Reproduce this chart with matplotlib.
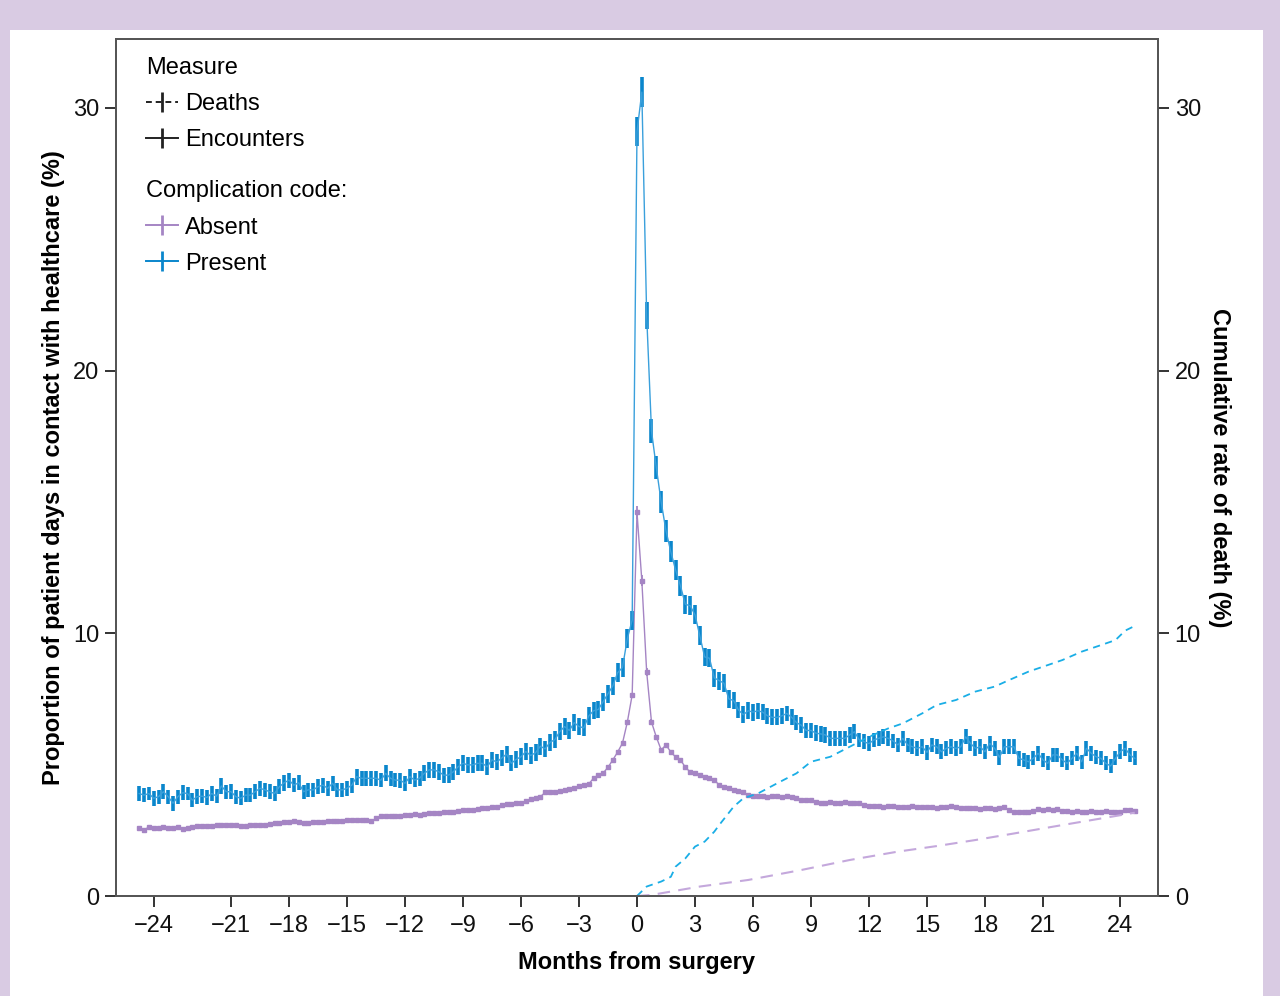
import numpy as np
import matplotlib
matplotlib.use("Agg")
import matplotlib.pyplot as plt
from matplotlib.lines import Line2D
from matplotlib.patches import Rectangle

plt.rcParams["font.family"] = ["Liberation Sans", "DejaVu Sans"]

# weeks from surgery (axis unit = 4 weeks)
weeks = np.arange(-103, 104)

# encounters, complication code present (%)
present_enc = [
    3.90, 3.84, 3.90, 3.72, 3.78, 3.97, 3.78, 3.53, 3.78, 3.93,
    3.90, 3.65, 3.78, 3.80, 3.75, 3.90, 3.80, 4.19, 3.97, 3.97,
    3.78, 3.72, 3.84, 3.84, 3.97, 4.10, 4.04, 3.97, 3.90, 4.16,
    4.31, 4.41, 4.22, 4.31, 3.97, 4.04, 4.04, 4.16, 4.22, 4.10,
    4.29, 4.04, 4.04, 4.10, 4.22, 4.54, 4.48, 4.48, 4.48, 4.48,
    4.41, 4.67, 4.48, 4.41, 4.41, 4.29, 4.54, 4.41, 4.48, 4.67,
    4.80, 4.80, 4.73, 4.60, 4.60, 4.73, 4.92, 5.05, 4.99, 4.99,
    5.05, 5.05, 4.92, 5.18, 5.10, 5.25, 5.40, 5.05, 5.20, 5.30,
    5.50, 5.35, 5.45, 5.70, 5.60, 5.85, 5.95, 6.25, 6.45, 6.30,
    6.60, 6.45, 6.40, 6.85, 7.05, 7.10, 7.40, 7.70, 8.00, 8.50,
    8.70, 9.80, 10.50,
    29.1, 30.6, 22.1, 17.7, 16.3, 15.0, 13.9, 13.1, 12.4, 11.8,
    11.1, 11.05, 10.7, 9.9, 9.1, 9.05, 8.3, 8.2, 8.1, 7.5,
    7.44, 7.08, 6.9, 7.05, 7.0, 7.05, 7.0, 6.86, 6.8, 6.8,
    6.86, 6.95, 6.8, 6.6, 6.5, 6.3, 6.3, 6.2, 6.17, 6.13,
    6.0, 6.0, 6.0, 6.0, 6.13, 6.25, 5.94, 5.87, 5.8, 5.94,
    6.0, 6.06, 6.0, 5.9, 5.75, 6.0, 5.75, 5.68, 5.62, 5.68,
    5.47, 5.75, 5.68, 5.49, 5.62, 5.68, 5.62, 5.68, 6.06, 5.81,
    5.62, 5.68, 5.49, 5.81, 5.62, 5.28, 5.68, 5.68, 5.68, 5.24,
    5.18, 5.11, 5.24, 5.43, 5.18, 5.05, 5.37, 5.37, 5.18, 5.05,
    5.24, 5.43, 5.11, 5.62, 5.43, 5.30, 5.24, 5.05, 4.95, 5.24,
    5.49, 5.62, 5.37, 5.24,
]
present_err = [
    0.27, 0.28, 0.26, 0.28, 0.27, 0.29, 0.26, 0.28, 0.27, 0.28,
    0.26, 0.27, 0.28, 0.26, 0.27, 0.28, 0.26, 0.30, 0.27, 0.28,
    0.27, 0.26, 0.28, 0.27, 0.28, 0.29, 0.27, 0.28, 0.27, 0.29,
    0.30, 0.29, 0.28, 0.29, 0.27, 0.28, 0.27, 0.28, 0.29, 0.28,
    0.29, 0.28, 0.27, 0.28, 0.29, 0.30, 0.29, 0.29, 0.28, 0.29,
    0.28, 0.30, 0.29, 0.28, 0.29, 0.28, 0.29, 0.28, 0.29, 0.30,
    0.30, 0.31, 0.30, 0.29, 0.30, 0.30, 0.31, 0.31, 0.30, 0.31,
    0.31, 0.30, 0.31, 0.31, 0.30, 0.31, 0.32, 0.31, 0.31, 0.32,
    0.32, 0.31, 0.32, 0.32, 0.31, 0.32, 0.33, 0.32, 0.33, 0.32,
    0.33, 0.33, 0.32, 0.33, 0.33, 0.33, 0.34, 0.34, 0.34, 0.35,
    0.35, 0.35, 0.36,
    0.56, 0.56, 0.52, 0.46, 0.44, 0.42, 0.41, 0.40, 0.39, 0.38,
    0.37, 0.37, 0.36, 0.36, 0.35, 0.35, 0.35, 0.34, 0.34, 0.33,
    0.33, 0.32, 0.32, 0.32, 0.32, 0.31, 0.31, 0.31, 0.31, 0.31,
    0.31, 0.30, 0.30, 0.30, 0.30, 0.30, 0.30, 0.29, 0.29, 0.29,
    0.29, 0.29, 0.29, 0.29, 0.29, 0.29, 0.28, 0.28, 0.28, 0.28,
    0.28, 0.28, 0.28, 0.28, 0.28, 0.28, 0.28, 0.28, 0.28, 0.28,
    0.28, 0.28, 0.28, 0.28, 0.28, 0.28, 0.28, 0.28, 0.28, 0.28,
    0.28, 0.28, 0.28, 0.28, 0.28, 0.28, 0.28, 0.28, 0.28, 0.28,
    0.27, 0.27, 0.27, 0.28, 0.27, 0.27, 0.28, 0.28, 0.27, 0.27,
    0.27, 0.28, 0.27, 0.28, 0.28, 0.27, 0.27, 0.27, 0.27, 0.27,
    0.28, 0.28, 0.27, 0.27,
]

# encounters, complication code absent (%)
absent_enc = [
    2.59, 2.52, 2.62, 2.60, 2.60, 2.61, 2.60, 2.59, 2.61, 2.56,
    2.60, 2.62, 2.67, 2.66, 2.68, 2.67, 2.70, 2.69, 2.72, 2.71,
    2.70, 2.68, 2.67, 2.69, 2.70, 2.70, 2.71, 2.74, 2.76, 2.78,
    2.80, 2.82, 2.84, 2.80, 2.78, 2.79, 2.80, 2.80, 2.80, 2.84,
    2.86, 2.85, 2.87, 2.90, 2.89, 2.90, 2.91, 2.88, 2.84, 2.95,
    3.05, 3.04, 3.03, 3.03, 3.05, 3.07, 3.08, 3.11, 3.10, 3.14,
    3.17, 3.16, 3.15, 3.18, 3.20, 3.21, 3.23, 3.27, 3.26, 3.29,
    3.31, 3.34, 3.35, 3.38, 3.40, 3.45, 3.49, 3.51, 3.53, 3.55,
    3.60, 3.68, 3.72, 3.78, 3.94, 3.96, 3.97, 3.98, 4.02, 4.06,
    4.12, 4.18, 4.22, 4.26, 4.48, 4.60, 4.68, 4.90, 5.18, 5.48,
    5.82, 6.62, 7.65,
    14.6, 12.0, 8.53, 6.62, 6.05, 5.56, 5.75, 5.48, 5.29, 5.18,
    4.90, 4.72, 4.68, 4.60, 4.53, 4.49, 4.42, 4.22, 4.15, 4.10,
    4.05, 4.00, 3.95, 3.85, 3.82, 3.80, 3.80, 3.78, 3.80, 3.79,
    3.78, 3.80, 3.76, 3.72, 3.66, 3.66, 3.64, 3.58, 3.53, 3.55,
    3.56, 3.55, 3.54, 3.56, 3.55, 3.53, 3.55, 3.46, 3.44, 3.42,
    3.42, 3.40, 3.41, 3.42, 3.40, 3.40, 3.39, 3.41, 3.40, 3.38,
    3.37, 3.37, 3.36, 3.38, 3.37, 3.42, 3.38, 3.35, 3.34, 3.35,
    3.34, 3.33, 3.34, 3.35, 3.33, 3.34, 3.37, 3.28, 3.20, 3.19,
    3.20, 3.18, 3.22, 3.30, 3.29, 3.30, 3.28, 3.30, 3.24, 3.22,
    3.21, 3.22, 3.20, 3.21, 3.22, 3.20, 3.21, 3.22, 3.20, 3.19,
    3.21, 3.28, 3.27, 3.25,
]
absent_err = [0.05] * 100 + [0.06, 0.07, 0.09] + [
    0.25, 0.20, 0.15, 0.11, 0.09, 0.08, 0.08, 0.07, 0.07, 0.07,
] + [0.06] * 94

# cumulative deaths (%), weeks after surgery
death_wk_present = [0, 2, 5, 7, 8, 10, 12, 14, 16, 17, 20, 22, 25, 29, 33, 36, 40, 44,
                    48, 52, 55, 59, 62, 66, 70, 74, 77, 81, 85, 88, 92, 96, 99, 101, 103]
death_present = [0.0, 0.36, 0.55, 0.73, 1.12, 1.43, 1.88, 2.07, 2.45, 2.70, 3.40, 3.72,
                 3.90, 4.29, 4.67, 5.11, 5.30, 5.68, 6.06, 6.38, 6.57, 6.95, 7.27, 7.46,
                 7.78, 7.97, 8.22, 8.54, 8.79, 8.98, 9.30, 9.55, 9.74, 10.10, 10.28]
death_wk_absent = [0, 3, 13, 23, 34, 44, 54, 62, 70, 78, 88, 96, 103]
death_absent = [0.0, 0.04, 0.36, 0.61, 0.99, 1.37, 1.69, 1.90, 2.13, 2.38, 2.70, 2.95, 3.17]

xtick_labels = ["\u221224", "\u221221", "\u221218", "\u221215", "\u221212", "\u22129",
                "\u22126", "\u22123", "0", "3", "6", "9", "12", "15", "18", "21", "24"]

blue = "#0a86cc"
blue_line = "#3aa0dc"
cyan = "#1aaee6"
purple = "#a585c4"
purple_dash = "#c4a8dc"
dark = "#333333"

fig = plt.figure(figsize=(12.8, 9.96), dpi=100)
fig.patch.set_facecolor("#d9cbe3")
fig.patches.append(Rectangle((10 / 1280, 0), 1253 / 1280, 966 / 996,
                             transform=fig.transFigure, facecolor="white",
                             edgecolor="none", zorder=-5))

ax = fig.add_axes([116 / 1280, 100 / 996, 1042 / 1280, 857 / 996])
ax2 = ax.twinx()
ax.patch.set_alpha(0)
ax2.patch.set_alpha(0)

x = weeks / 4
ax.errorbar(x, absent_enc, yerr=absent_err, color=purple, lw=1.0, marker="s", ms=2.2,
            ecolor=purple, elinewidth=1.3, capsize=0, zorder=3)
ax.errorbar(x, present_enc, yerr=present_err, color=blue_line, lw=1.0,
            ecolor=blue, elinewidth=2.6, capsize=0, zorder=4)
ax2.plot(np.array(death_wk_absent) / 4, death_absent, color=purple_dash, lw=1.5,
         dashes=(6, 4))
ax2.plot(np.array(death_wk_present) / 4, death_present, color=cyan, lw=1.3,
         dashes=(4, 3))

for a in (ax, ax2):
    a.set_xlim(-26.95, 26.95)
    a.set_ylim(0, 32.62)
    a.set_yticks([0, 10, 20, 30])
    a.tick_params(length=8, width=1.4, color=dark, labelsize=17, pad=6,
                  labelcolor="#111111")
    a.tick_params(axis="y", pad=4)
    for s in a.spines.values():
        s.set_color("#555555")
        s.set_linewidth(1.3)

ax.set_xticks([-25, -21, -18, -15, -12, -9, -6, -3, 0, 3, 6, 9, 12, 15, 18, 21, 25])
ax.set_xticklabels(xtick_labels)
ax.set_xlabel("Months from surgery", fontsize=17, fontweight="bold", labelpad=10)
ax.set_ylabel("Proportion of patient days in contact with healthcare (%)",
              fontsize=17, fontweight="bold", labelpad=6)
ax2.set_ylabel("Cumulative rate of death (%)", fontsize=17, fontweight="bold",
               rotation=270, labelpad=22)

# legends
h_deaths = Line2D([], [], color="#222222", lw=1.4, dashes=(3, 2), marker="|", ms=15, mew=2)
h_enc = Line2D([], [], color="#222222", lw=1.4, marker="|", ms=15, mew=2)
h_abs = Line2D([], [], color=purple, lw=1.4, marker="|", ms=15, mew=2)
h_pre = Line2D([], [], color=blue, lw=1.4, marker="|", ms=15, mew=2)

leg1 = ax2.legend([h_deaths, h_enc], ["Deaths", "Encounters"], title="Measure",
                  loc="upper left", bbox_to_anchor=(0.029, 0.979), frameon=False,
                  fontsize=17, title_fontsize=17, alignment="left", borderpad=0,
                  borderaxespad=0, handlelength=1.35, handletextpad=0.3,
                  labelspacing=0.6)
ax2.add_artist(leg1)
ax2.legend([h_abs, h_pre], ["Absent", "Present"], title="Complication code:",
           loc="upper left", bbox_to_anchor=(0.029, 0.835), frameon=False,
           fontsize=17, title_fontsize=17, alignment="left", borderpad=0,
           borderaxespad=0, handlelength=1.35, handletextpad=0.3,
           labelspacing=0.6)

fig.savefig("out.png", dpi=100, facecolor=fig.get_facecolor())
